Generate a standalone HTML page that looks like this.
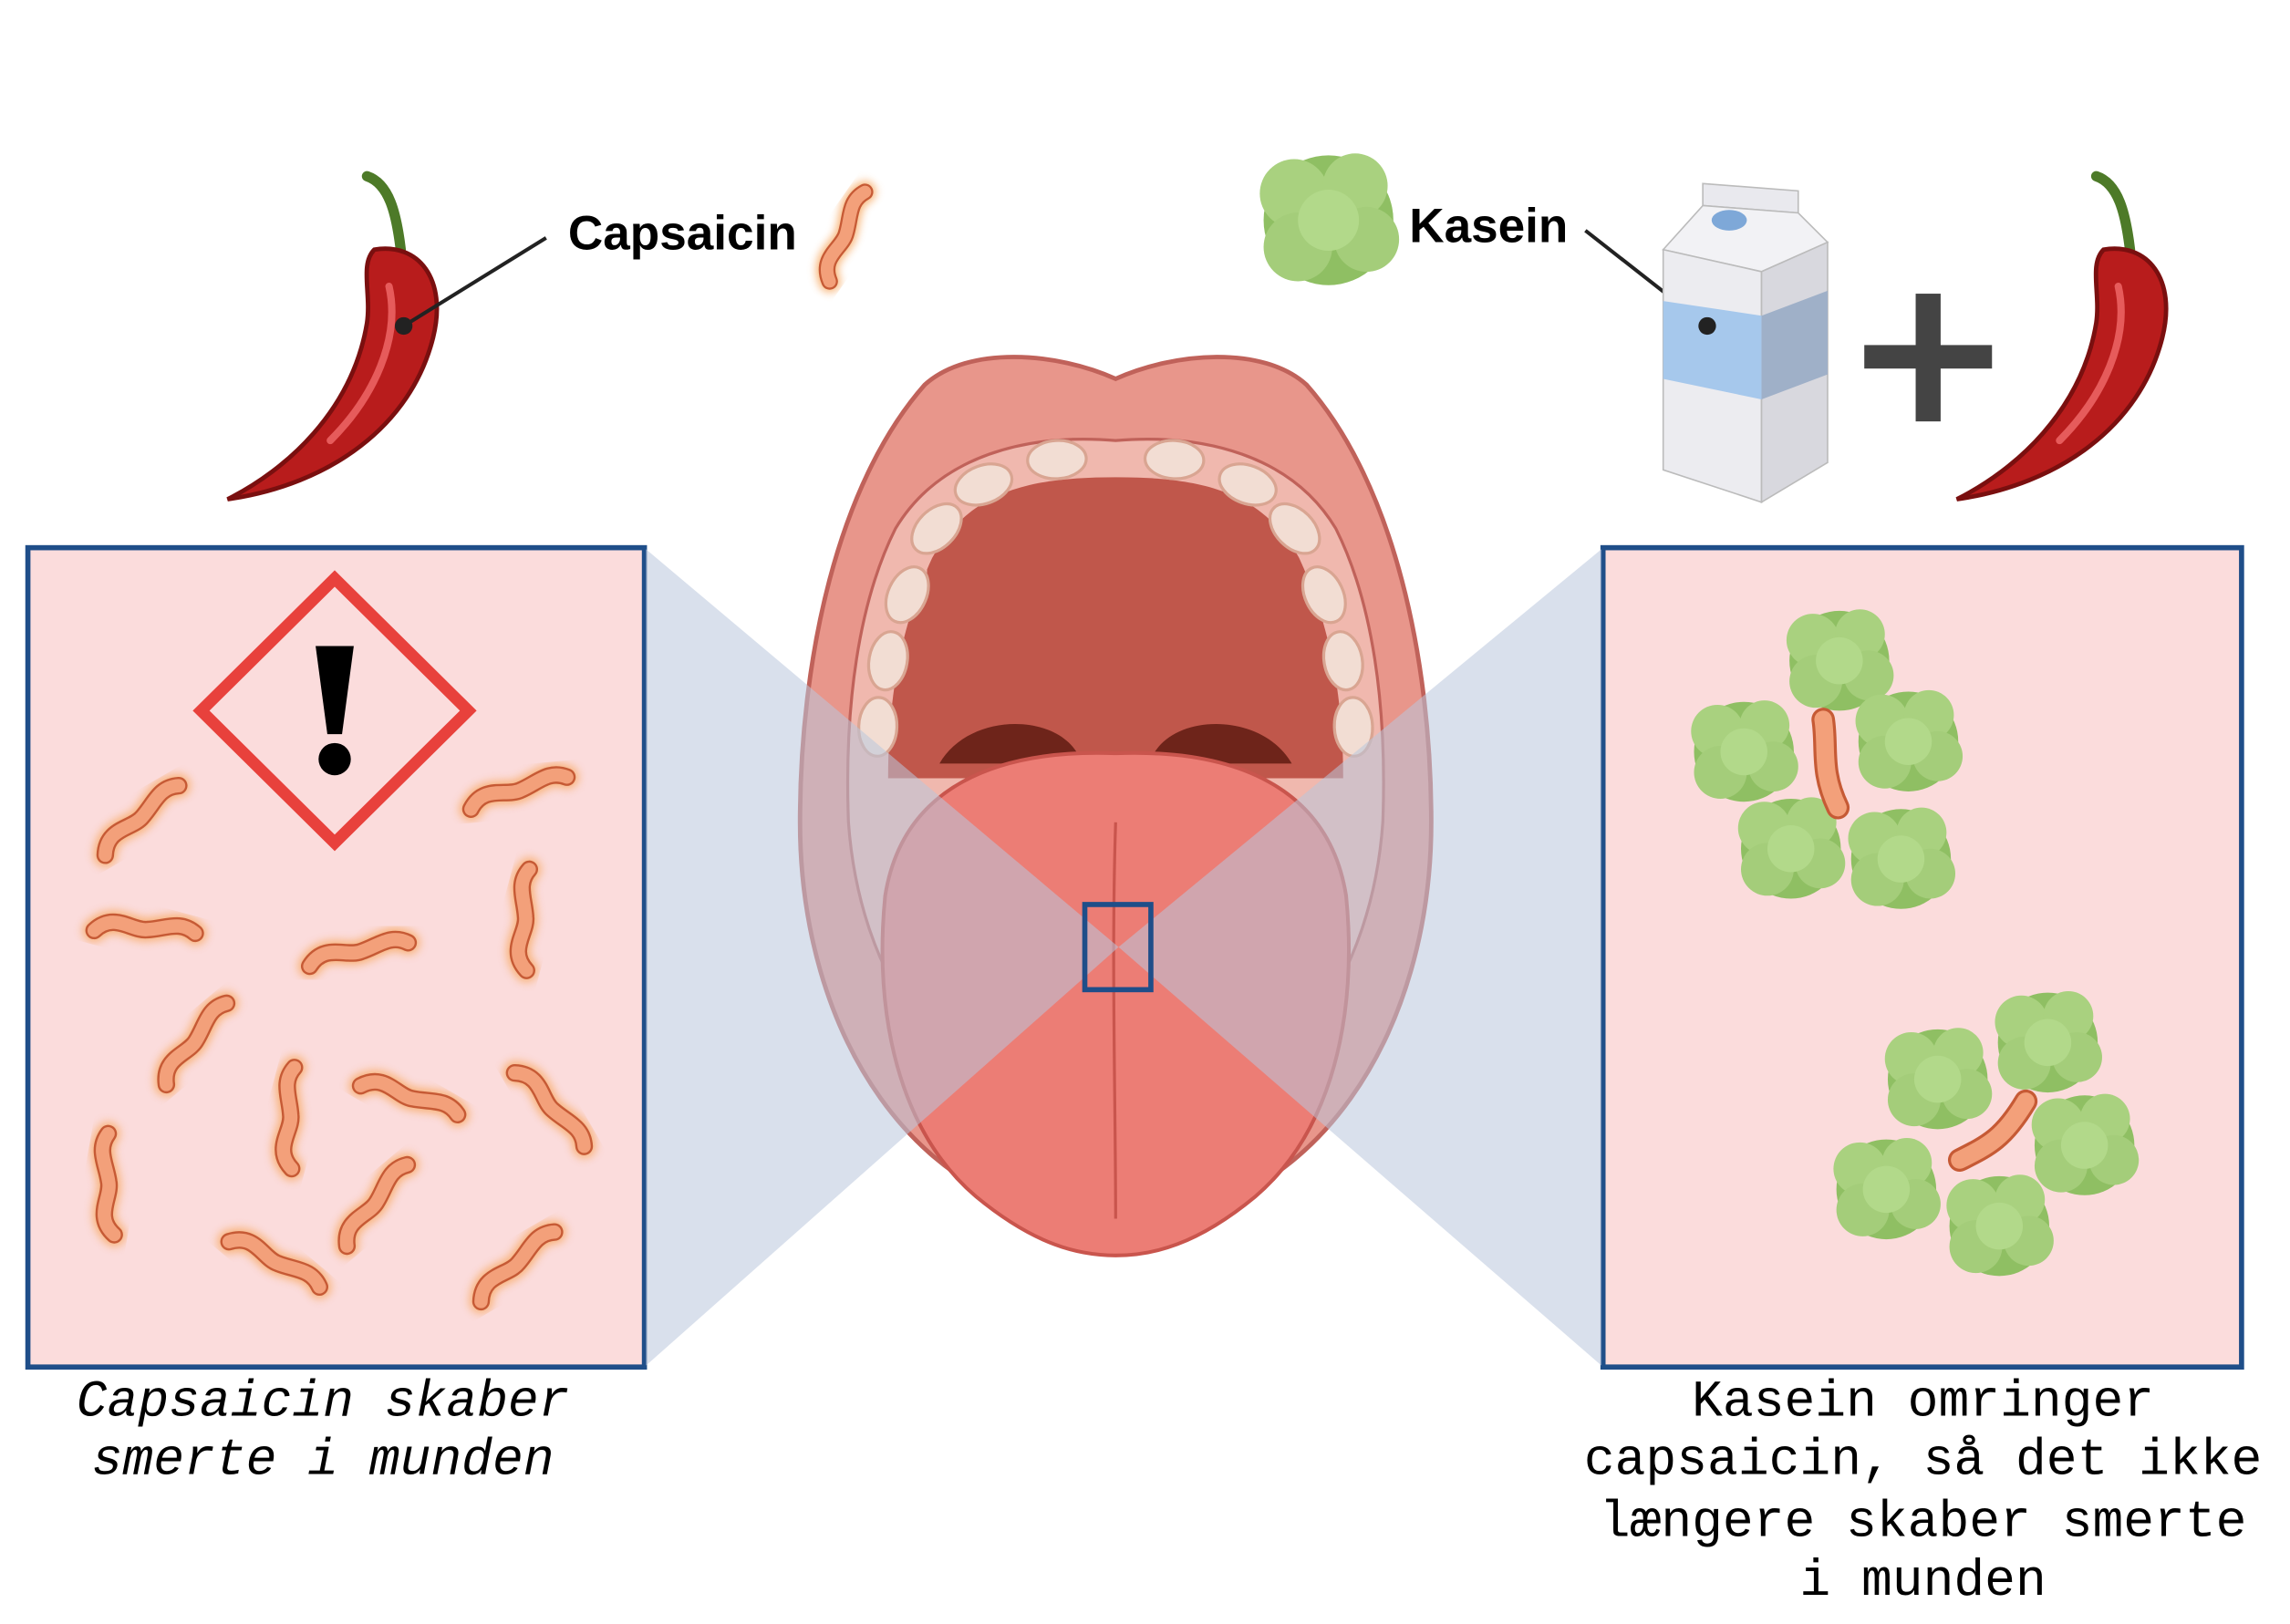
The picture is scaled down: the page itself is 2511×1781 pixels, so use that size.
<!DOCTYPE html>
<html><head><meta charset="utf-8"><style>
html,body{margin:0;padding:0;background:#fff;}
svg{display:block;}
</style></head><body>
<svg width="2511" height="1781" viewBox="0 0 1560 1106" preserveAspectRatio="none" xmlns="http://www.w3.org/2000/svg">
<defs>
<filter id="glow" x="-50%" y="-50%" width="200%" height="200%"><feGaussianBlur stdDeviation="3"/></filter>
<g id="cap">
  <path d="M-35,8 C-25,-8 -10,2 0,-2 C12,-6 20,-14 32,-8" fill="none" stroke="#f7a860" stroke-width="16" stroke-linecap="round" filter="url(#glow)" opacity="0.8"/>
  <path d="M-35,8 C-25,-8 -10,2 0,-2 C12,-6 20,-14 32,-8" fill="none" stroke="#c65a35" stroke-width="12" stroke-linecap="round"/>
  <path d="M-35,8 C-25,-8 -10,2 0,-2 C12,-6 20,-14 32,-8" fill="none" stroke="#f3a07a" stroke-width="9" stroke-linecap="round"/>
</g>
<g id="blob">
  <circle cx="0" cy="0" r="34" fill="#8fbf63"/>
  <circle cx="-18" cy="-14" r="18" fill="#a9d17f"/><circle cx="14" cy="-18" r="17" fill="#a9d17f"/>
  <circle cx="20" cy="10" r="17" fill="#a4cd7a"/><circle cx="-16" cy="14" r="18" fill="#a4cd7a"/>
  <circle cx="0" cy="0" r="16" fill="#b2d98a"/>
</g>
<g id="pepper">
  <path d="M95,0 C110,5 115,25 118,50" fill="none" stroke="#4d7a28" stroke-width="7" stroke-linecap="round"/>
  <path d="M100,50 C130,45 150,70 140,110 C125,170 70,210 0,220 C40,200 85,160 95,100 C98,80 90,60 100,50 Z" fill="#b81c1c" stroke="#7a0f0f" stroke-width="3"/>
  <path d="M110,75 C118,110 100,150 70,180" fill="none" stroke="#e65b5b" stroke-width="5" stroke-linecap="round"/>
</g>
<ellipse id="tooth" cx="0" cy="0" rx="20" ry="13" fill="#f2ddd3" stroke="#d9a592" stroke-width="2"/>
</defs>

<rect x="19" y="373" width="420" height="558" fill="#fbdcdc" stroke="#1f4e89" stroke-width="3.5"/>
<rect x="1092" y="373" width="435" height="558" fill="#fbdcdc" stroke="#1f4e89" stroke-width="3.5"/>

<polygon points="228,394 319,484 228,574 137,484" fill="none" stroke="#e8413c" stroke-width="8"/>
<path d="M215,440 L241,440 L233,500 L223,500 Z" fill="#000"/>
<circle cx="228" cy="517" r="11" fill="#000"/>

<use href="#cap" transform="translate(98,558) rotate(-30)"/>
<use href="#cap" transform="translate(355,540) rotate(-5)"/>
<use href="#cap" transform="translate(100,635) rotate(15)"/>
<use href="#cap" transform="translate(246,650) rotate(0)"/>
<use href="#cap" transform="translate(360,625) rotate(-75)"/>
<use href="#cap" transform="translate(135,710) rotate(-40)"/>
<use href="#cap" transform="translate(200,760) rotate(-75)"/>
<use href="#cap" transform="translate(280,750) rotate(30)"/>
<use href="#cap" transform="translate(375,757) rotate(60)"/>
<use href="#cap" transform="translate(76,805) rotate(-80)"/>
<use href="#cap" transform="translate(258,820) rotate(-40)"/>
<use href="#cap" transform="translate(188,862) rotate(40)"/>
<use href="#cap" transform="translate(354,862) rotate(-30)"/>

<use href="#blob" transform="translate(1253,450)"/>
<use href="#blob" transform="translate(1188,512)"/>
<use href="#blob" transform="translate(1300,505)"/>
<use href="#blob" transform="translate(1220,578)"/>
<use href="#blob" transform="translate(1295,585)"/>
<path d="M1242,490 C1245,510 1240,525 1252,550" stroke="#c65a35" stroke-width="16" stroke-linecap="round" fill="none"/>
<path d="M1242,490 C1245,510 1240,525 1252,550" stroke="#f3a07a" stroke-width="12" stroke-linecap="round" fill="none"/>
<use href="#blob" transform="translate(1395,710)"/>
<use href="#blob" transform="translate(1320,735)"/>
<use href="#blob" transform="translate(1420,780)"/>
<use href="#blob" transform="translate(1285,810)"/>
<use href="#blob" transform="translate(1362,835)"/>
<path d="M1335,790 C1355,780 1365,775 1380,750" stroke="#c65a35" stroke-width="16" stroke-linecap="round" fill="none"/>
<path d="M1335,790 C1355,780 1365,775 1380,750" stroke="#f3a07a" stroke-width="12" stroke-linecap="round" fill="none"/>

<!-- mouth -->
<path d="M760,258 C720,240 660,235 630,262 C570,330 545,450 545,560 C545,700 620,830 760,835 C900,830 975,700 975,560 C975,450 950,330 890,262 C860,235 800,240 760,258 Z" fill="#e8968b" stroke="#c0625a" stroke-width="3"/>
<path d="M760,300 C700,295 640,310 610,360 C585,410 575,480 578,560 C585,660 640,760 760,770 C880,760 935,660 942,560 C945,480 935,410 910,360 C880,310 820,295 760,300 Z" fill="#f0b8ae" stroke="#c0625a" stroke-width="2"/>
<path d="M760,325 C700,325 660,335 635,380 C612,430 605,480 605,530 L915,530 C915,480 908,430 885,380 C860,335 820,325 760,325 Z" fill="#c0574b"/>
<path d="M640,520 C660,485 720,485 735,515 L785,515 C800,485 860,485 880,520 Z" fill="#6e241a"/>
<!-- teeth -->
<use href="#tooth" transform="translate(720,313) rotate(-3)"/>
<use href="#tooth" transform="translate(800,313) rotate(3)"/>
<use href="#tooth" transform="translate(670,330) rotate(-20)"/>
<use href="#tooth" transform="translate(850,330) rotate(20)"/>
<use href="#tooth" transform="translate(638,360) rotate(-45)"/>
<use href="#tooth" transform="translate(882,360) rotate(45)"/>
<use href="#tooth" transform="translate(618,405) rotate(-65)"/>
<use href="#tooth" transform="translate(902,405) rotate(65)"/>
<use href="#tooth" transform="translate(605,450) rotate(-80)"/>
<use href="#tooth" transform="translate(915,450) rotate(80)"/>
<use href="#tooth" transform="translate(598,495) rotate(-88)"/>
<use href="#tooth" transform="translate(922,495) rotate(88)"/>
<!-- tongue -->
<path d="M760,513 C680,510 615,535 603,610 C595,690 612,770 665,815 C705,848 735,855 760,855 C785,855 815,848 855,815 C908,770 925,690 917,610 C905,535 840,510 760,513 Z" fill="#ec7d75" stroke="#c9554d" stroke-width="2.5"/>
<path d="M760,560 C757,650 760,750 760,830" stroke="#c9554d" stroke-width="2" fill="none"/>

<polygon points="440,374 440,930 762,645" fill="#b9c6dc" opacity="0.55"/>
<polygon points="1091,374 1091,930 762,645" fill="#b9c6dc" opacity="0.55"/>
<rect x="739" y="616" width="45" height="58" fill="none" stroke="#1f4e89" stroke-width="3.5"/>

<use href="#pepper" transform="translate(155,120)"/>
<use href="#pepper" transform="translate(1333,120)"/>
<line x1="275" y1="222" x2="372" y2="162" stroke="#222" stroke-width="2.5"/>
<circle cx="275" cy="222" r="6" fill="#222"/>
<text x="387" y="170" font-family="Liberation Sans, sans-serif" font-weight="bold" font-size="33" fill="#000">Capsaicin</text>
<use href="#cap" transform="translate(578,160) rotate(-55) scale(0.95)"/>
<use href="#blob" transform="translate(905,150) scale(1.3)"/>
<text x="960" y="165" font-family="Liberation Sans, sans-serif" font-weight="bold" font-size="33" fill="#000">Kasein</text>
<line x1="1080" y1="157" x2="1163" y2="222" stroke="#222" stroke-width="2.5"/>
<polygon points="1160,125 1225,130 1225,145 1160,140" fill="#e9e9ee" stroke="#bbb"/>
<polygon points="1133,170 1160,140 1225,145 1245,165 1200,185" fill="#f2f2f5" stroke="#bbb"/>
<polygon points="1133,170 1200,185 1200,342 1133,320" fill="#ececf0" stroke="#bbb"/>
<polygon points="1200,185 1245,165 1245,315 1200,342" fill="#d8d8de" stroke="#bbb"/>
<polygon points="1133,205 1200,215 1200,272 1133,258" fill="#a6c8ec"/>
<polygon points="1200,215 1245,198 1245,255 1200,272" fill="#9fb0c8"/>
<ellipse cx="1178" cy="150" rx="12" ry="7" fill="#7ea8d8"/>
<circle cx="1163" cy="222" r="6" fill="#222"/>
<rect x="1270" y="235" width="87" height="16" fill="#444"/>
<rect x="1305" y="200" width="17" height="87" fill="#444"/>

<g font-family="Liberation Mono, monospace" font-size="35" fill="#000" text-anchor="middle">
<text x="220" y="964" font-style="italic">Capsaicin skaber</text>
<text x="220" y="1004" font-style="italic">smerte i munden</text>
<text x="1310" y="964">Kasein omringer</text>
<text x="1310" y="1004">capsaicin, så det ikke</text>
<text x="1310" y="1046">længere skaber smerte</text>
<text x="1310" y="1086">i munden</text>
</g>
</svg>
</body></html>
